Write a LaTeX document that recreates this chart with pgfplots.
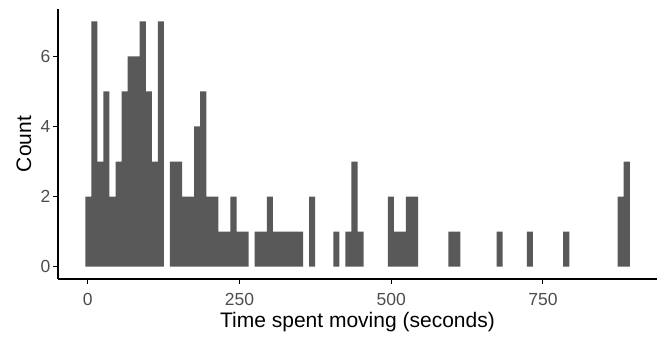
\documentclass[border=0pt]{standalone}
\usepackage{pgfplots}
\pgfplotsset{compat=1.18}
\usepackage{fontspec}
\setmainfont{Liberation Sans}
\definecolor{barfill}{HTML}{595959}
\definecolor{ticktext}{HTML}{4D4D4D}
\begin{document}
\begin{tikzpicture}
\path[use as bounding box] (-58pt,-58pt) rectangle (601pt,279pt);
\begin{axis}[
  at={(0pt,0pt)}, anchor=south west,
  scale only axis, width=599pt, height=270pt,
  xmin=-49.2, xmax=937.9, ymin=-0.35, ymax=7.35,
  axis x line*=bottom, axis y line*=left,
  axis line style={-, black, line width=1.3pt},
  xtick={0,250,500,750}, ytick={0,2,4,6},
  tick align=outside, major tick length=5pt,
  tick style={black, line width=1pt},
  /pgf/number format/assume math mode=true,
  ticklabel style={font=\fontsize{17.5}{17.5}\selectfont, text=ticktext},
  xticklabel style={anchor=north, inner sep=0pt, yshift=-8.7pt},
  yticklabel style={anchor=east, inner sep=0pt, xshift=-2.5pt},
  xlabel={Time spent moving (seconds)},
  ylabel={Count},
  label style={font=\fontsize{21}{21}\selectfont, text=black},
  xlabel style={at={(axis description cs:0.5,-0.1804)}, anchor=base, inner sep=0pt},
  ylabel style={at={(axis description cs:-0.0568,0.5)}, anchor=center, inner sep=0pt},
  clip=false,
]
\addplot[ybar, bar width=9.97, fill=barfill, draw=none] coordinates {
(0.7,2) (10.67,7) (20.64,3) (30.61,5) (40.58,2) (50.55,3) (60.52,5) (70.49,6)
(80.46,6) (90.43,7) (100.4,5) (110.37,3) (120.34,7)
(140.28,3) (150.25,3) (160.22,2) (170.19,2) (180.16,4) (190.13,5) (200.1,2)
(210.07,2) (220.04,1) (230.01,1) (239.98,2) (249.95,1) (259.92,1)
(279.86,1) (289.83,1) (299.8,2) (309.77,1) (319.74,1) (329.71,1) (339.68,1) (349.65,1)
(369.59,2) (409.47,1) (429.41,1) (439.38,3) (449.35,1)
(499.2,2) (509.17,1) (519.14,1) (529.11,2) (539.08,2)
(598.9,1) (608.87,1) (678.66,1) (728.51,1) (788.33,1) (878.06,2) (888.03,3)
};
\end{axis}
\end{tikzpicture}
\end{document}
